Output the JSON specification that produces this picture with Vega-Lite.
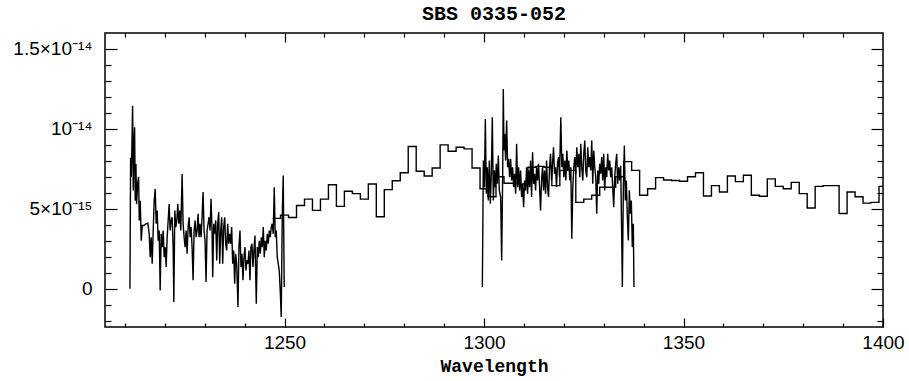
{
  "$schema": "https://vega.github.io/schema/vega-lite/v6.json",
  "width": 778,
  "height": 294,
  "autosize": "none",
  "padding": {"left": 105, "top": 33, "right": 26, "bottom": 54},
  "background": "white",
  "title": {"text": "SBS 0335-052", "font": "Liberation Mono", "fontSize": 20, "fontWeight": "bold", "color": "black", "offset": 8, "anchor": "middle"},
  "config": {
    "view": {"stroke": "black", "strokeWidth": 1.5},
    "title": {"font": "Liberation Mono", "fontSize": 20, "fontWeight": "bold"},
    "axis": {"domain": false, "grid": false, "tickColor": "black", "tickWidth": 1.2, "labelColor": "black", "labelFont": "Liberation Sans", "labelFontSize": 19, "labelFlush": false, "labelOverlap": false, "titleFont": "Liberation Mono", "titleFontSize": 18, "titleFontWeight": "bold", "titleColor": "black"}
  },
  "datasets": {
    "hires": [
      {"w":1211.25,"f":0.0,"seg":1},{"w":1211.42,"f":8.2,"seg":1},{"w":1211.58,"f":7.0,"seg":1},{"w":1211.75,"f":9.06,"seg":1},{"w":1211.92,"f":11.45,"seg":1},{"w":1212.08,"f":6.14,"seg":1},{"w":1212.25,"f":8.85,"seg":1},{"w":1212.42,"f":10.1,"seg":1},{"w":1212.58,"f":5.5,"seg":1},{"w":1212.75,"f":7.8,"seg":1},{"w":1212.92,"f":5.3,"seg":1},{"w":1213.17,"f":6.56,"seg":1},{"w":1213.42,"f":7.0,"seg":1},{"w":1213.58,"f":4.27,"seg":1},{"w":1213.83,"f":5.5,"seg":1},{"w":1214.08,"f":3.0,"seg":1},{"w":1214.33,"f":3.95,"seg":1},{"w":1214.75,"f":3.95,"seg":1},{"w":1215.25,"f":4.06,"seg":1},{"w":1215.75,"f":4.1,"seg":1},{"w":1216.08,"f":3.43,"seg":1},{"w":1216.33,"f":1.97,"seg":1},{"w":1216.58,"f":3.22,"seg":1},{"w":1216.83,"f":1.56,"seg":1},{"w":1217.08,"f":3.64,"seg":1},{"w":1217.33,"f":5.5,"seg":1},{"w":1217.58,"f":6.24,"seg":1},{"w":1217.83,"f":4.06,"seg":1},{"w":1218.08,"f":4.89,"seg":1},{"w":1218.33,"f":3.0,"seg":1},{"w":1218.58,"f":3.64,"seg":1},{"w":1218.83,"f":-0.11,"seg":1},{"w":1219.08,"f":3.43,"seg":1},{"w":1219.33,"f":2.6,"seg":1},{"w":1219.58,"f":3.64,"seg":1},{"w":1219.83,"f":1.97,"seg":1},{"w":1220.08,"f":2.6,"seg":1},{"w":1220.33,"f":1.35,"seg":1},{"w":1220.58,"f":3.22,"seg":1},{"w":1220.83,"f":4.27,"seg":1},{"w":1221.08,"f":5.3,"seg":1},{"w":1221.33,"f":3.64,"seg":1},{"w":1221.58,"f":4.27,"seg":1},{"w":1221.83,"f":4.47,"seg":1},{"w":1222.08,"f":2.6,"seg":1},{"w":1222.25,"f":-0.84,"seg":1},{"w":1222.5,"f":4.89,"seg":1},{"w":1222.75,"f":3.85,"seg":1},{"w":1223.0,"f":4.27,"seg":1},{"w":1223.25,"f":5.3,"seg":1},{"w":1223.5,"f":4.06,"seg":1},{"w":1223.75,"f":4.89,"seg":1},{"w":1224.0,"f":3.64,"seg":1},{"w":1224.33,"f":7.18,"seg":1},{"w":1224.58,"f":4.06,"seg":1},{"w":1224.83,"f":3.22,"seg":1},{"w":1225.08,"f":2.6,"seg":1},{"w":1225.33,"f":3.64,"seg":1},{"w":1225.58,"f":2.18,"seg":1},{"w":1225.83,"f":3.85,"seg":1},{"w":1226.08,"f":4.47,"seg":1},{"w":1226.33,"f":3.22,"seg":1},{"w":1226.58,"f":3.85,"seg":1},{"w":1226.83,"f":2.6,"seg":1},{"w":1227.08,"f":0.52,"seg":1},{"w":1227.33,"f":3.64,"seg":1},{"w":1227.58,"f":4.27,"seg":1},{"w":1227.83,"f":3.22,"seg":1},{"w":1228.08,"f":3.64,"seg":1},{"w":1228.33,"f":4.68,"seg":1},{"w":1228.58,"f":3.22,"seg":1},{"w":1228.83,"f":4.06,"seg":1},{"w":1229.08,"f":3.22,"seg":1},{"w":1229.33,"f":4.47,"seg":1},{"w":1229.58,"f":6.04,"seg":1},{"w":1229.83,"f":3.64,"seg":1},{"w":1230.08,"f":3.0,"seg":1},{"w":1230.33,"f":0.41,"seg":1},{"w":1230.58,"f":3.64,"seg":1},{"w":1230.83,"f":4.06,"seg":1},{"w":1231.08,"f":4.47,"seg":1},{"w":1231.33,"f":3.64,"seg":1},{"w":1231.58,"f":5.62,"seg":1},{"w":1231.83,"f":3.64,"seg":1},{"w":1232.0,"f":0.72,"seg":1},{"w":1232.25,"f":4.06,"seg":1},{"w":1232.5,"f":3.43,"seg":1},{"w":1232.75,"f":4.27,"seg":1},{"w":1233.0,"f":1.77,"seg":1},{"w":1233.25,"f":4.06,"seg":1},{"w":1233.5,"f":4.79,"seg":1},{"w":1233.75,"f":1.56,"seg":1},{"w":1234.0,"f":3.64,"seg":1},{"w":1234.25,"f":4.47,"seg":1},{"w":1234.5,"f":1.56,"seg":1},{"w":1234.75,"f":3.85,"seg":1},{"w":1235.0,"f":4.47,"seg":1},{"w":1235.25,"f":2.81,"seg":1},{"w":1235.5,"f":2.39,"seg":1},{"w":1235.75,"f":4.06,"seg":1},{"w":1236.0,"f":2.81,"seg":1},{"w":1236.25,"f":3.43,"seg":1},{"w":1236.5,"f":2.81,"seg":1},{"w":1236.75,"f":3.85,"seg":1},{"w":1237.0,"f":1.56,"seg":1},{"w":1237.25,"f":2.39,"seg":1},{"w":1237.5,"f":0.31,"seg":1},{"w":1237.75,"f":2.18,"seg":1},{"w":1238.0,"f":1.56,"seg":1},{"w":1238.33,"f":-1.15,"seg":1},{"w":1238.58,"f":2.6,"seg":1},{"w":1238.83,"f":3.64,"seg":1},{"w":1239.08,"f":1.35,"seg":1},{"w":1239.33,"f":2.18,"seg":1},{"w":1239.58,"f":0.52,"seg":1},{"w":1239.83,"f":1.97,"seg":1},{"w":1240.08,"f":2.6,"seg":1},{"w":1240.33,"f":1.14,"seg":1},{"w":1240.58,"f":1.77,"seg":1},{"w":1240.83,"f":1.56,"seg":1},{"w":1241.08,"f":2.39,"seg":1},{"w":1241.33,"f":0.52,"seg":1},{"w":1241.58,"f":2.6,"seg":1},{"w":1241.83,"f":2.81,"seg":1},{"w":1242.08,"f":1.35,"seg":1},{"w":1242.33,"f":2.39,"seg":1},{"w":1242.58,"f":3.33,"seg":1},{"w":1242.92,"f":-0.94,"seg":1},{"w":1243.17,"f":2.6,"seg":1},{"w":1243.42,"f":1.97,"seg":1},{"w":1243.67,"f":3.0,"seg":1},{"w":1243.92,"f":2.18,"seg":1},{"w":1244.17,"f":3.22,"seg":1},{"w":1244.42,"f":2.6,"seg":1},{"w":1244.67,"f":3.85,"seg":1},{"w":1244.92,"f":1.97,"seg":1},{"w":1245.17,"f":3.0,"seg":1},{"w":1245.42,"f":2.39,"seg":1},{"w":1245.67,"f":3.43,"seg":1},{"w":1245.92,"f":2.81,"seg":1},{"w":1246.17,"f":3.64,"seg":1},{"w":1246.42,"f":3.22,"seg":1},{"w":1246.67,"f":3.85,"seg":1},{"w":1246.92,"f":4.06,"seg":1},{"w":1247.17,"f":3.43,"seg":1},{"w":1247.42,"f":6.35,"seg":1},{"w":1247.67,"f":3.22,"seg":1},{"w":1247.92,"f":3.64,"seg":1},{"w":1248.17,"f":1.97,"seg":1},{"w":1248.42,"f":1.56,"seg":1},{"w":1248.67,"f":1.14,"seg":1},{"w":1248.92,"f":-0.11,"seg":1},{"w":1249.17,"f":-1.78,"seg":1},{"w":1249.42,"f":4.47,"seg":1},{"w":1249.67,"f":7.08,"seg":1},{"w":1249.92,"f":0.1,"seg":1},
      {"w":1299.58,"f":0.1,"seg":2},{"w":1299.83,"f":8.02,"seg":2},{"w":1300.08,"f":6.35,"seg":2},{"w":1300.33,"f":10.62,"seg":2},{"w":1300.58,"f":5.94,"seg":2},{"w":1300.83,"f":7.6,"seg":2},{"w":1301.08,"f":5.52,"seg":2},{"w":1301.33,"f":8.02,"seg":2},{"w":1301.58,"f":5.31,"seg":2},{"w":1301.83,"f":7.19,"seg":2},{"w":1302.08,"f":10.73,"seg":2},{"w":1302.33,"f":5.52,"seg":2},{"w":1302.58,"f":7.4,"seg":2},{"w":1302.83,"f":6.35,"seg":2},{"w":1303.08,"f":7.81,"seg":2},{"w":1303.33,"f":6.56,"seg":2},{"w":1303.58,"f":8.33,"seg":2},{"w":1303.83,"f":6.15,"seg":2},{"w":1304.17,"f":5.73,"seg":2},{"w":1304.42,"f":1.77,"seg":2},{"w":1304.67,"f":6.98,"seg":2},{"w":1304.83,"f":12.5,"seg":2},{"w":1305.0,"f":8.65,"seg":2},{"w":1305.17,"f":9.69,"seg":2},{"w":1305.42,"f":8.02,"seg":2},{"w":1305.67,"f":10.52,"seg":2},{"w":1305.92,"f":7.6,"seg":2},{"w":1306.17,"f":8.12,"seg":2},{"w":1306.42,"f":6.98,"seg":2},{"w":1306.67,"f":8.12,"seg":2},{"w":1306.92,"f":6.77,"seg":2},{"w":1307.17,"f":7.6,"seg":2},{"w":1307.42,"f":6.35,"seg":2},{"w":1307.67,"f":7.19,"seg":2},{"w":1307.92,"f":5.94,"seg":2},{"w":1308.17,"f":9.06,"seg":2},{"w":1308.42,"f":6.35,"seg":2},{"w":1308.67,"f":7.6,"seg":2},{"w":1308.92,"f":6.15,"seg":2},{"w":1309.17,"f":7.4,"seg":2},{"w":1309.42,"f":5.73,"seg":2},{"w":1309.67,"f":6.56,"seg":2},{"w":1309.92,"f":5.1,"seg":2},{"w":1310.17,"f":6.77,"seg":2},{"w":1310.42,"f":6.15,"seg":2},{"w":1310.67,"f":7.6,"seg":2},{"w":1310.92,"f":5.94,"seg":2},{"w":1311.17,"f":7.4,"seg":2},{"w":1311.42,"f":6.35,"seg":2},{"w":1311.67,"f":8.02,"seg":2},{"w":1311.92,"f":5.73,"seg":2},{"w":1312.17,"f":8.54,"seg":2},{"w":1312.42,"f":6.56,"seg":2},{"w":1312.67,"f":7.19,"seg":2},{"w":1312.92,"f":6.15,"seg":2},{"w":1313.17,"f":7.6,"seg":2},{"w":1313.42,"f":6.77,"seg":2},{"w":1313.67,"f":7.81,"seg":2},{"w":1313.92,"f":6.35,"seg":2},{"w":1314.17,"f":4.9,"seg":2},{"w":1314.42,"f":6.77,"seg":2},{"w":1314.67,"f":7.6,"seg":2},{"w":1314.92,"f":6.15,"seg":2},{"w":1315.17,"f":7.4,"seg":2},{"w":1315.42,"f":5.94,"seg":2},{"w":1315.67,"f":8.02,"seg":2},{"w":1315.92,"f":6.35,"seg":2},{"w":1316.17,"f":5.73,"seg":2},{"w":1316.42,"f":7.6,"seg":2},{"w":1316.67,"f":8.44,"seg":2},{"w":1316.92,"f":6.77,"seg":2},{"w":1317.17,"f":7.81,"seg":2},{"w":1317.42,"f":8.85,"seg":2},{"w":1317.67,"f":7.19,"seg":2},{"w":1317.92,"f":7.6,"seg":2},{"w":1318.17,"f":6.35,"seg":2},{"w":1318.42,"f":7.81,"seg":2},{"w":1318.67,"f":8.23,"seg":2},{"w":1318.92,"f":6.98,"seg":2},{"w":1319.25,"f":10.73,"seg":2},{"w":1319.5,"f":7.6,"seg":2},{"w":1319.75,"f":8.44,"seg":2},{"w":1320.0,"f":6.98,"seg":2},{"w":1320.25,"f":8.02,"seg":2},{"w":1320.5,"f":6.77,"seg":2},{"w":1320.75,"f":8.65,"seg":2},{"w":1321.0,"f":7.4,"seg":2},{"w":1321.25,"f":8.02,"seg":2},{"w":1321.5,"f":6.77,"seg":2},{"w":1321.75,"f":7.6,"seg":2},{"w":1322.0,"f":3.12,"seg":2},{"w":1322.25,"f":6.35,"seg":2},{"w":1322.5,"f":7.6,"seg":2},{"w":1322.75,"f":8.23,"seg":2},{"w":1323.0,"f":7.19,"seg":2},{"w":1323.25,"f":8.85,"seg":2},{"w":1323.5,"f":7.6,"seg":2},{"w":1323.75,"f":8.44,"seg":2},{"w":1324.0,"f":6.98,"seg":2},{"w":1324.25,"f":9.06,"seg":2},{"w":1324.5,"f":7.6,"seg":2},{"w":1324.75,"f":6.77,"seg":2},{"w":1325.0,"f":8.44,"seg":2},{"w":1325.25,"f":9.27,"seg":2},{"w":1325.5,"f":7.4,"seg":2},{"w":1325.75,"f":6.98,"seg":2},{"w":1326.0,"f":8.85,"seg":2},{"w":1326.25,"f":7.6,"seg":2},{"w":1326.5,"f":8.23,"seg":2},{"w":1326.75,"f":7.4,"seg":2},{"w":1327.0,"f":9.27,"seg":2},{"w":1327.25,"f":6.56,"seg":2},{"w":1327.5,"f":8.65,"seg":2},{"w":1327.75,"f":7.6,"seg":2},{"w":1328.0,"f":6.98,"seg":2},{"w":1328.25,"f":4.69,"seg":2},{"w":1328.5,"f":7.4,"seg":2},{"w":1328.75,"f":6.56,"seg":2},{"w":1329.0,"f":7.81,"seg":2},{"w":1329.25,"f":7.19,"seg":2},{"w":1329.5,"f":8.23,"seg":2},{"w":1329.75,"f":6.77,"seg":2},{"w":1330.0,"f":8.44,"seg":2},{"w":1330.25,"f":6.15,"seg":2},{"w":1330.5,"f":7.6,"seg":2},{"w":1330.75,"f":6.98,"seg":2},{"w":1331.0,"f":8.44,"seg":2},{"w":1331.25,"f":7.4,"seg":2},{"w":1331.5,"f":8.02,"seg":2},{"w":1331.75,"f":6.98,"seg":2},{"w":1332.0,"f":7.6,"seg":2},{"w":1332.25,"f":6.35,"seg":2},{"w":1332.5,"f":5.1,"seg":2},{"w":1332.75,"f":6.98,"seg":2},{"w":1333.0,"f":7.81,"seg":2},{"w":1333.25,"f":8.44,"seg":2},{"w":1333.5,"f":6.56,"seg":2},{"w":1333.75,"f":7.6,"seg":2},{"w":1334.0,"f":6.77,"seg":2},{"w":1334.25,"f":7.71,"seg":2},{"w":1334.5,"f":3.44,"seg":2},{"w":1334.67,"f":0.1,"seg":2},{"w":1334.92,"f":6.35,"seg":2},{"w":1335.17,"f":8.96,"seg":2},{"w":1335.42,"f":5.52,"seg":2},{"w":1335.67,"f":6.77,"seg":2},{"w":1335.92,"f":4.48,"seg":2},{"w":1336.17,"f":3.02,"seg":2},{"w":1336.42,"f":6.15,"seg":2},{"w":1336.67,"f":4.69,"seg":2},{"w":1336.92,"f":5.52,"seg":2},{"w":1337.17,"f":2.6,"seg":2},{"w":1337.42,"f":4.06,"seg":2},{"w":1337.58,"f":0.1,"seg":2}
    ],
    "lores": [
      {"w":1247,"f":4.4},{"w":1249,"f":4.6},{"w":1251,"f":4.45},{"w":1253,"f":5.2},{"w":1255,"f":5.6},{"w":1257,"f":4.9},{"w":1259,"f":5.6},{"w":1261,"f":6.5},{"w":1263,"f":5.15},{"w":1265,"f":6.1},{"w":1267,"f":5.95},{"w":1269,"f":5.6},{"w":1271,"f":6.55},{"w":1273,"f":4.5},{"w":1275,"f":6.2},{"w":1277,"f":6.75},{"w":1279,"f":7.25},{"w":1281,"f":8.9},{"w":1283,"f":7.35},{"w":1285,"f":7.05},{"w":1287,"f":7.55},{"w":1289,"f":9.0},{"w":1291,"f":8.6},{"w":1293,"f":8.85},{"w":1295,"f":8.75},{"w":1297,"f":7.55},{"w":1299,"f":6.25},{"w":1301,"f":5.75},{"w":1303,"f":7.0},{"w":1305,"f":6.6},{"w":1307,"f":6.6},{"w":1309,"f":6.55},{"w":1311,"f":7.6},{"w":1313,"f":7.65},{"w":1315,"f":7.6},{"w":1317,"f":6.45},{"w":1319,"f":7.4},{"w":1321,"f":7.4},{"w":1323,"f":5.4},{"w":1325,"f":5.6},{"w":1327,"f":5.85},{"w":1329,"f":6.35},{"w":1331,"f":6.35},{"w":1333,"f":7.0},{"w":1335,"f":7.95},{"w":1337,"f":7.4},{"w":1339,"f":5.85},{"w":1341,"f":6.25},{"w":1343,"f":6.95},{"w":1345,"f":6.8},{"w":1347,"f":6.77},{"w":1349,"f":6.72},{"w":1351,"f":7.0},{"w":1353,"f":7.25},{"w":1355,"f":5.8},{"w":1357,"f":6.45},{"w":1359,"f":6.05},{"w":1361,"f":7.05},{"w":1363,"f":6.7},{"w":1365,"f":7.1},{"w":1367,"f":5.85},{"w":1369,"f":5.78},{"w":1371,"f":6.87},{"w":1373,"f":6.4},{"w":1375,"f":6.25},{"w":1377,"f":6.65},{"w":1379,"f":5.95},{"w":1381,"f":5.05},{"w":1383,"f":6.4},{"w":1385,"f":6.45},{"w":1387,"f":6.45},{"w":1389,"f":4.7},{"w":1391,"f":6.05},{"w":1393,"f":5.75},{"w":1395,"f":5.35},{"w":1397,"f":5.4},{"w":1399,"f":6.4},{"w":1400,"f":6.4}
    ]
  },
  "resolve": {"axis": {"x": "independent", "y": "independent"}},
  "layer": [
    {
      "data": {"name": "hires"},
      "mark": {"type": "line", "color": "black", "strokeWidth": 1.4, "interpolate": "linear"},
      "encoding": {
        "x": {"field": "w", "type": "quantitative", "scale": {"domain": [1205, 1400], "nice": false, "zero": false},
              "axis": {"orient": "bottom", "values": [1250, 1300, 1350, 1400], "format": "d", "tickSize": -9, "labelPadding": 15, "title": "Wavelength", "titlePadding": 5}},
        "y": {"field": "f", "type": "quantitative", "scale": {"domain": [-2.4, 16], "nice": false, "zero": false},
              "axis": {"orient": "left", "values": [0, 5, 10, 15], "tickSize": -12, "labelPadding": 25, "title": null,
                       "labelExpr": "datum.value == 0 ? '0' : datum.value == 5 ? '5×10⁻¹⁵' : datum.value == 10 ? '10⁻¹⁴' : '1.5×10⁻¹⁴'"}},
        "detail": {"field": "seg", "type": "nominal"}
      }
    },
    {
      "data": {"name": "lores"},
      "mark": {"type": "line", "color": "black", "strokeWidth": 1.4, "interpolate": "step-after"},
      "encoding": {
        "x": {"field": "w", "type": "quantitative", "scale": {"domain": [1205, 1400], "nice": false, "zero": false},
              "axis": {"orient": "top", "values": [1250, 1300, 1350], "tickSize": -9, "labels": false, "title": null}},
        "y": {"field": "f", "type": "quantitative", "scale": {"domain": [-2.4, 16], "nice": false, "zero": false},
              "axis": {"orient": "right", "values": [0, 5, 10, 15], "tickSize": -12, "labels": false, "title": null}}
      }
    },
    {
      "data": {"values": []},
      "mark": {"type": "line", "color": "black"},
      "encoding": {
        "x": {"field": "w", "type": "quantitative", "scale": {"domain": [1205, 1400], "nice": false, "zero": false},
              "axis": {"orient": "bottom", "values": [1210, 1220, 1230, 1240, 1260, 1270, 1280, 1290, 1310, 1320, 1330, 1340, 1360, 1370, 1380, 1390], "tickSize": -4, "labels": false, "title": null}},
        "y": {"field": "f", "type": "quantitative", "scale": {"domain": [-2.4, 16], "nice": false, "zero": false},
              "axis": {"orient": "left", "values": [-2, -1, 1, 2, 3, 4, 6, 7, 8, 9, 11, 12, 13, 14], "tickSize": -6, "labels": false, "title": null}}
      }
    },
    {
      "data": {"values": []},
      "mark": {"type": "line", "color": "black"},
      "encoding": {
        "x": {"field": "w", "type": "quantitative", "scale": {"domain": [1205, 1400], "nice": false, "zero": false},
              "axis": {"orient": "top", "values": [1210, 1220, 1230, 1240, 1260, 1270, 1280, 1290, 1310, 1320, 1330, 1340, 1360, 1370, 1380, 1390], "tickSize": -4, "labels": false, "title": null}},
        "y": {"field": "f", "type": "quantitative", "scale": {"domain": [-2.4, 16], "nice": false, "zero": false},
              "axis": {"orient": "right", "values": [-2, -1, 1, 2, 3, 4, 6, 7, 8, 9, 11, 12, 13, 14], "tickSize": -6, "labels": false, "title": null}}
      }
    }
  ]
}
